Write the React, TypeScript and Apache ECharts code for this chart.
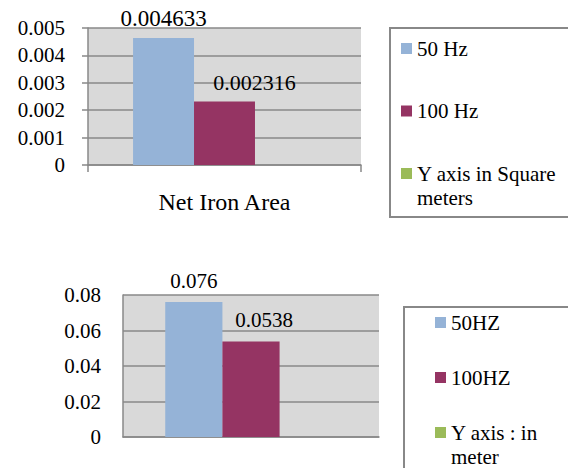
import React, { useEffect, useRef } from "react";
import * as echarts from "echarts";

const topCategories = ["Net Iron Area"];
const top50Hz = [0.004633];
const top100Hz = [0.002316];
const topNote: (number | null)[] = [null];

const bottomCategories = [""];
const bottom50Hz = [0.076];
const bottom100Hz = [0.0538];
const bottomNote: (number | null)[] = [null];

const topNames = ["50 Hz", "100 Hz", "Y axis in Square meters"];
const bottomNames = ["50HZ", "100HZ", "Y axis : in meter"];

const BLUE = "#95B3D7";
const MAGENTA = "#953463";
const GREEN = "#9BBB59";
const GRID_LINE = "#888888";
const FONT = "'Liberation Serif', 'Times New Roman', serif";

export default function App() {
  const ref = useRef<HTMLDivElement>(null);
  useEffect(() => {
    if (!ref.current) return;
    const chart = echarts.init(ref.current, null, { renderer: "svg" });
    const L = 24;
    const legendItem = (name: string, left: number, iconCenter: number, multi: boolean) => ({
      show: true,
      data: [name],
      orient: "vertical",
      left,
      top: multi ? iconCenter - 1.5 * L : iconCenter - L / 2,
      padding: 0,
      icon: "rect",
      itemWidth: 11,
      itemHeight: 11,
      itemGap: 0,
      selectedMode: false,
      formatter: (n: string) =>
        n === "Y axis in Square meters"
          ? "\nY axis in Square\nmeters"
          : n === "Y axis : in meter"
          ? "\nY axis : in\nmeter"
          : n,
      textStyle: {
        fontFamily: FONT,
        fontSize: 21,
        color: "#000",
        lineHeight: L,
      },
    });
    const labelStyle = (size: number, dist: number, dx: number) => ({
      show: true,
      position: "top",
      distance: dist,
      offset: [dx, 0],
      fontFamily: FONT,
      fontSize: size,
      color: "#000",
    });
    chart.setOption({
      animation: false,
      backgroundColor: "#fff",
      textStyle: { fontFamily: FONT },
      grid: [
        { left: 88, right: 207, top: 28, height: 137, show: true, backgroundColor: "#D9D9D9", borderWidth: 0 },
        { left: 123, right: 189, top: 295, height: 142, show: true, backgroundColor: "#D9D9D9", borderWidth: 0 },
      ],
      xAxis: [
        {
          type: "category",
          gridIndex: 0,
          data: topCategories,
          axisLine: { show: true, lineStyle: { color: GRID_LINE, width: 1.5 } },
          axisTick: { show: true, length: 7, interval: 0, lineStyle: { color: GRID_LINE, width: 1.5 } },
          axisLabel: { fontFamily: FONT, fontSize: 24, color: "#000", margin: 25 },
        },
        {
          type: "category",
          gridIndex: 1,
          data: bottomCategories,
          axisLine: { show: true, lineStyle: { color: GRID_LINE, width: 1.5 } },
          axisTick: { show: false },
          axisLabel: { show: false },
        },
      ],
      yAxis: [
        {
          type: "value",
          gridIndex: 0,
          min: 0,
          max: 0.005,
          interval: 0.001,
          axisLine: { show: true, lineStyle: { color: GRID_LINE, width: 1.5 } },
          axisTick: { show: true, length: 6, lineStyle: { color: GRID_LINE, width: 1.5 } },
          splitLine: { show: true, lineStyle: { color: GRID_LINE, width: 1.5 } },
          axisLabel: { fontFamily: FONT, fontSize: 21, color: "#000", margin: 23 },
        },
        {
          type: "value",
          gridIndex: 1,
          min: 0,
          max: 0.08,
          interval: 0.02,
          axisLine: { show: true, lineStyle: { color: GRID_LINE, width: 1.5 } },
          axisTick: { show: false },
          splitLine: { show: true, lineStyle: { color: GRID_LINE, width: 1.5 } },
          axisLabel: { fontFamily: FONT, fontSize: 21, color: "#000", margin: 22 },
        },
      ],
      legend: [
        legendItem(topNames[0], 401, 48.5, false),
        legendItem(topNames[1], 401, 111, false),
        legendItem(topNames[2], 401, 173.5, true),
        legendItem(bottomNames[0], 435, 322.5, false),
        legendItem(bottomNames[1], 435, 377.5, false),
        legendItem(bottomNames[2], 435, 432.5, true),
      ],
      graphic: [
        { type: "rect", shape: { x: 390, y: 28, width: 200, height: 189 }, style: { fill: "none", stroke: GRID_LINE, lineWidth: 2 }, silent: true },
        { type: "rect", shape: { x: 404, y: 307, width: 200, height: 200 }, style: { fill: "none", stroke: GRID_LINE, lineWidth: 2 }, silent: true },
      ],
      series: [
        {
          name: topNames[0], type: "bar", xAxisIndex: 0, yAxisIndex: 0, data: top50Hz,
          itemStyle: { color: BLUE }, barGap: "0%", barCategoryGap: "33%",
          label: labelStyle(23, 8, 0),
        },
        {
          name: topNames[1], type: "bar", xAxisIndex: 0, yAxisIndex: 0, data: top100Hz,
          itemStyle: { color: MAGENTA }, barGap: "0%", barCategoryGap: "33%",
          label: labelStyle(22, 8, 30),
        },
        {
          name: topNames[2], type: "bar", xAxisIndex: 0, yAxisIndex: 0, data: topNote,
          itemStyle: { color: GREEN }, barGap: "0%", barCategoryGap: "33%",
          label: { show: false },
        },
        {
          name: bottomNames[0], type: "bar", xAxisIndex: 1, yAxisIndex: 1, data: bottom50Hz,
          itemStyle: { color: BLUE }, barGap: "0%", barCategoryGap: "33%",
          label: labelStyle(21, 11, 0),
        },
        {
          name: bottomNames[1], type: "bar", xAxisIndex: 1, yAxisIndex: 1, data: bottom100Hz,
          itemStyle: { color: MAGENTA }, barGap: "0%", barCategoryGap: "33%",
          label: labelStyle(21, 11, 13),
        },
        {
          name: bottomNames[2], type: "bar", xAxisIndex: 1, yAxisIndex: 1, data: bottomNote,
          itemStyle: { color: GREEN }, barGap: "0%", barCategoryGap: "33%",
          label: { show: false },
        },
      ],
    });
    return () => chart.dispose();
  }, []);
  return (
    <div
      ref={ref}
      style={{ position: "fixed", left: 0, top: 0, width: 568, height: 468, background: "#fff" }}
    />
  );
}
